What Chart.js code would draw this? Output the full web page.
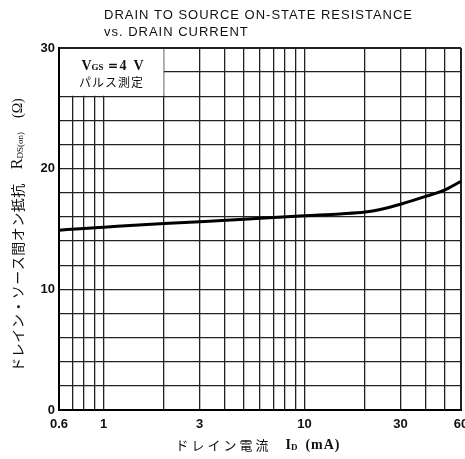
<!DOCTYPE html>
<html><head><meta charset="utf-8">
<script src="https://cdn.jsdelivr.net/npm/chart.js@4/dist/chart.umd.min.js"></script>
<style>html,body{margin:0;padding:0;background:#fff}#wrap{width:465px;height:459px;position:relative}</style>
</head><body><div id="wrap"><canvas id="c"></canvas></div>
<script>
// ---- data ----
const drainCurrent = [0.6, 0.8, 1, 2, 3, 5, 7, 10, 15, 20, 25, 30, 40, 50, 60];      // mA
const rdsOn        = [14.9, 15.05, 15.15, 15.45, 15.6, 15.8, 15.95, 16.1, 16.25, 16.4, 16.7, 17.05, 17.7, 18.25, 18.95]; // ohm
const xGridValues  = [0.6, 0.7, 0.8, 0.9, 1, 2, 3, 4, 5, 6, 7, 8, 9, 10, 20, 30, 40, 50, 60];
const xTickLabels  = [0.6, 1, 3, 10, 30, 60];
const yTickLabels  = [0, 10, 20, 30];
const titleLines   = ['DRAIN TO SOURCE ON-STATE RESISTANCE', 'vs. DRAIN CURRENT'];

const CJK = '"Noto Sans CJK JP"';

function drawRich(ctx, pieces, cx, cy) {
  let total = 0;
  pieces.forEach(p => { ctx.font = p.font; ctx.letterSpacing = (p.ls || 0) + 'px'; p.w = ctx.measureText(p.t).width; total += p.w + (p.gap || 0); });
  let x = cx - total / 2;
  ctx.textAlign = 'left'; ctx.textBaseline = 'middle';
  pieces.forEach(p => { ctx.font = p.font; ctx.letterSpacing = (p.ls || 0) + 'px'; ctx.fillText(p.t, x, cy + (p.dy || 0)); x += p.w + (p.gap || 0); });
  ctx.letterSpacing = '0px';
}

const decor = {
  id: 'decor',
  beforeDatasetsDraw(chart) {
    const {ctx, chartArea: a, scales: {x, y}} = chart;
    const bx = x.getPixelForValue(2), by = y.getPixelForValue(26);
    ctx.save();
    ctx.fillStyle = '#fff';
    ctx.fillRect(a.left + 1, a.top + 1, bx - a.left - 1.5, by - a.top - 1.5);
    ctx.restore();
  },
  afterDraw(chart) {
    const {ctx, chartArea: a, scales: {x, y}} = chart;
    ctx.save();
    ctx.fillStyle = '#111';
    ctx.font = '13px "Liberation Sans"';
    ctx.textAlign = 'left'; ctx.textBaseline = 'middle';
    const w0 = ctx.measureText(titleLines[0]).width;
    const ls = (309 - w0) / titleLines[0].length;
    ctx.letterSpacing = ls + 'px';
    ctx.fillText(titleLines[0], 104, 15);
    ctx.fillText(titleLines[1], 104, 32);
    ctx.letterSpacing = '0px';
    const bx = x.getPixelForValue(2);
    const lx = (a.left + bx) / 2;
    drawRich(ctx, [
      {t: 'V', font: 'bold 14px "Liberation Serif"', gap: 0},
      {t: 'GS', font: 'bold 9px "Liberation Serif"', dy: 2, gap: 2},
      {t: '＝4  V', font: 'bold 14px "Liberation Serif"'}
    ], lx + 1, 66);
    drawRich(ctx, [{t: 'パルス測定', font: '12px ' + CJK, ls: 1}], lx, 82);
    drawRich(ctx, [
      {t: 'ドレイン電流', font: '13px ' + CJK, ls: 3, gap: 14},
      {t: 'I', font: 'bold 14px "Liberation Serif"'},
      {t: 'D', font: 'bold 9px "Liberation Serif"', dy: 3, gap: 8},
      {t: '(mA)', font: 'bold 14px "Liberation Serif"', ls: 1}
    ], 258, 445);
    ctx.translate(18, 235);
    ctx.rotate(-Math.PI / 2);
    drawRich(ctx, [
      {t: 'ドレイン・ソース間オン抵抗', font: '14px ' + CJK, ls: 0.5, gap: 14},
      {t: 'R', font: '16px "Liberation Serif"'},
      {t: 'DS(on)', font: '9px "Liberation Serif"', dy: 3, gap: 14},
      {t: '(Ω)', font: '14px "Liberation Serif"'}
    ], 0, 0);
    ctx.restore();
  }
};

new Chart(document.getElementById('c'), {
  type: 'line',
  data: {
    datasets: [{
      data: drainCurrent.map((v, i) => ({x: v, y: rdsOn[i]})),
      borderColor: '#000',
      borderWidth: 3,
      pointRadius: 0,
      cubicInterpolationMode: 'monotone',
      fill: false
    }]
  },
  options: {
    responsive: true,
    maintainAspectRatio: false,
    animation: false,
    devicePixelRatio: 1,
    layout: {padding: {left: 0, right: 4, top: 48, bottom: 0}},
    plugins: {legend: {display: false}, tooltip: {enabled: false}, title: {display: false}},
    scales: {
      x: {
        type: 'logarithmic',
        min: 0.6, max: 60,
        afterBuildTicks(scale) { scale.ticks = xGridValues.map(v => ({value: v})); },
        afterFit(scale) { scale.height = 49; scale.paddingLeft = 0; scale.paddingRight = 0; },
        ticks: {
          autoSkip: false, maxRotation: 0, minRotation: 0, padding: 7,
          color: '#111', font: {family: '"Liberation Sans"', size: 13, weight: 'bold'},
          callback(v) { return xTickLabels.includes(v) ? String(v) : ''; }
        },
        grid: {
          color: '#222', drawTicks: false,
          lineWidth: c => (c.tick && (c.tick.value === 60 || c.tick.value === 0.6)) ? 2 : 1.3
        },
        border: {display: true, color: '#000', width: 2}
      },
      y: {
        min: 0, max: 30,
        afterFit(scale) { scale.width = 59; scale.paddingTop = 0; scale.paddingBottom = 0; },
        ticks: {
          stepSize: 2, padding: 4,
          color: '#111', font: {family: '"Liberation Sans"', size: 13, weight: 'bold'},
          callback(v) { return yTickLabels.includes(v) ? String(v) : ''; }
        },
        grid: {
          color: '#222', drawTicks: false,
          lineWidth: c => (c.tick && (c.tick.value === 30 || c.tick.value === 0)) ? 2 : 1.3
        },
        border: {display: true, color: '#000', width: 2}
      }
    }
  },
  plugins: [decor]
});
</script></body></html>
